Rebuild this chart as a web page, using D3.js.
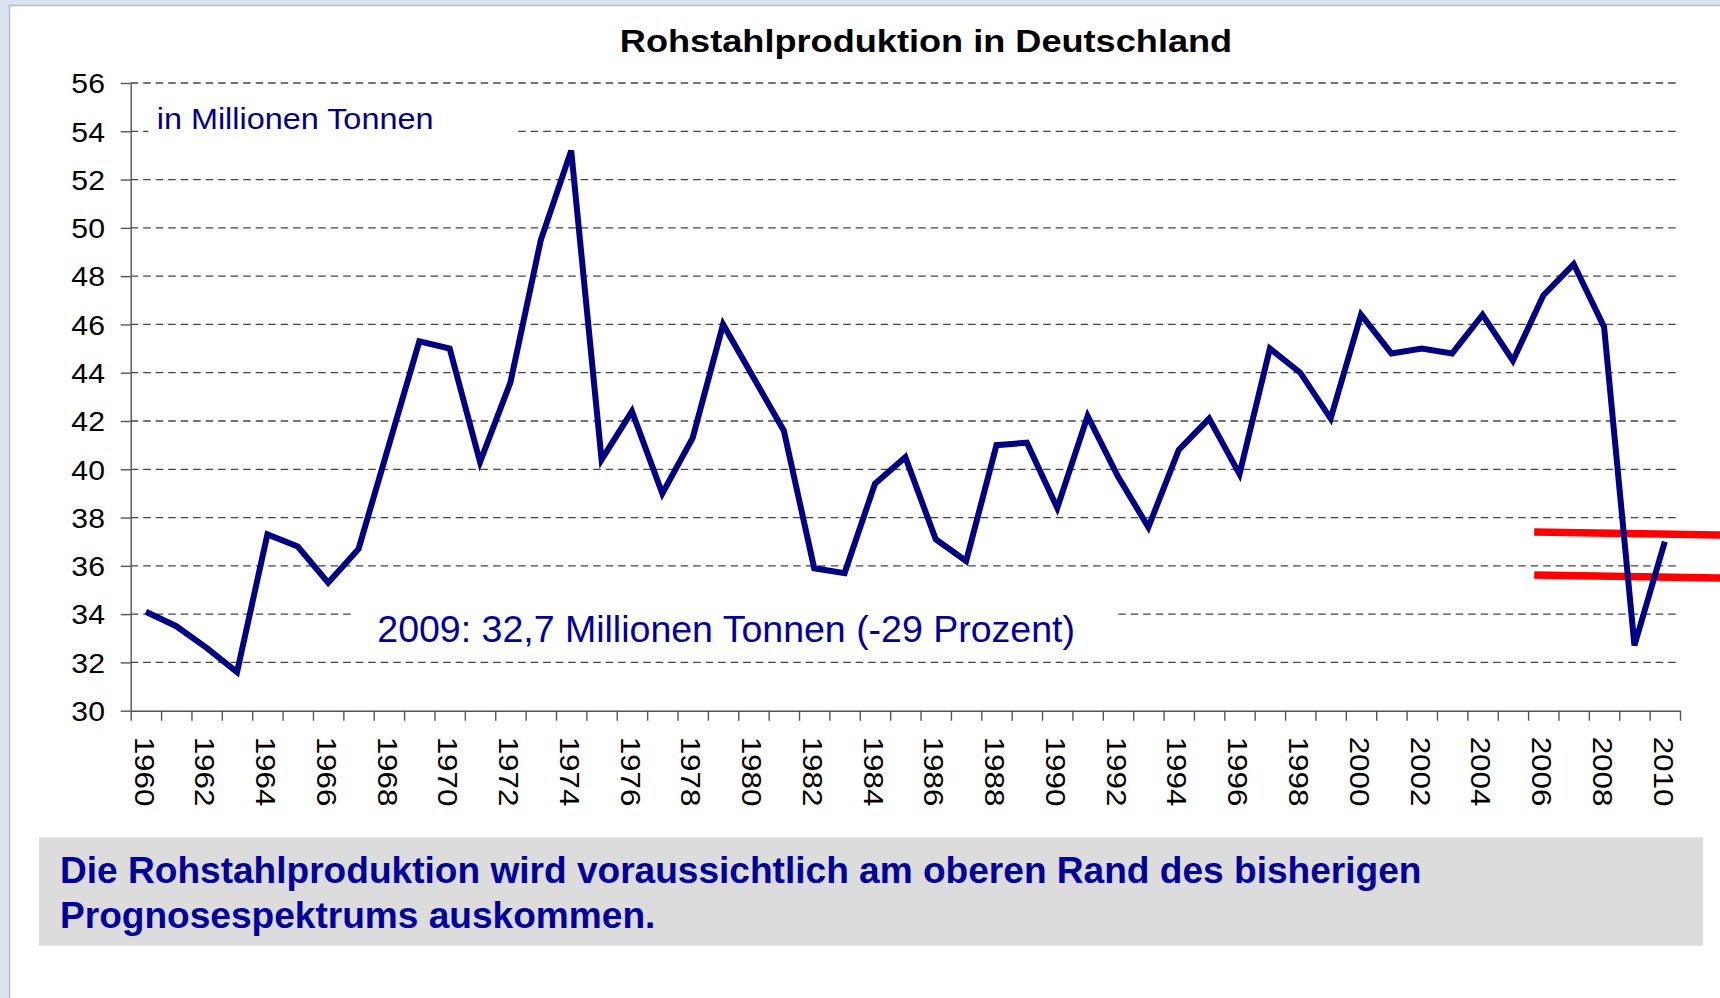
<!DOCTYPE html>
<html>
<head>
<meta charset="utf-8">
<script src="https://cdn.jsdelivr.net/npm/d3@7"></script>
<style>
  html, body { margin: 0; padding: 0; background: #d9e3f1; }
  svg { display: block; font-family: "Liberation Sans", Arial, sans-serif; }
</style>
</head>
<body>
<svg id="chart"></svg>
<script>
// Rohstahlproduktion in Deutschland, Mio. t
var years = d3.range(1960, 2011);
var production = [
  34.1, 33.5, 32.6, 31.6, 37.3, 36.8, 35.3, 36.7, 41.0, 45.3,
  45.0, 40.3, 43.6, 49.5, 53.2, 40.4, 42.4, 39.0, 41.3, 46.0,
  43.8, 41.6, 35.9, 35.7, 39.4, 40.5, 37.1, 36.2, 41.0, 41.1,
  38.4, 42.2, 39.7, 37.6, 40.8, 42.1, 39.8, 45.0, 44.0, 42.1,
  46.4, 44.8, 45.0, 44.8, 46.4, 44.5, 47.2, 48.5, 45.9, 32.7,
  37.0
];
var yTicks = d3.range(30, 57, 2);
var labelYears = d3.range(1960, 2011, 2);

// red forecast band lines: [year, value] start and end
var forecastUpper = [[2005.7, 37.4], [2011.9, 37.28]];
var forecastLower = [[2005.7, 35.62], [2011.9, 35.5]];

var titleText = "Rohstahlproduktion in Deutschland";
var unitText = "in Millionen Tonnen";
var noteText = "2009: 32,7 Millionen Tonnen (-29 Prozent)";
var boxLines = [
  "Die Rohstahlproduktion wird voraussichtlich am oberen Rand des bisherigen",
  "Prognosespektrums auskommen."
];

var width = 1720, height = 998;
var navy = "#000080";

var svg = d3.select("#chart")
            .attr("width", width)
            .attr("height", height);

// slide background
svg.append("rect").attr("width", width).attr("height", height).attr("fill", "#d9e3f1");
svg.append("rect").attr("x", 9.5).attr("y", 5.5)
   .attr("width", width).attr("height", height)
   .attr("fill", "#fff").attr("stroke", "#bdbdbd").attr("stroke-width", 1.5);

var x = d3.scaleLinear().domain([1959.5, 2010.5]).range([130.7, 1680]);
var y = d3.scaleLinear().domain([30, 56]).range([710.7, 83]);

// grid lines
svg.append("g")
   .selectAll("line")
   .data(yTicks.slice(1))
   .enter().append("line")
   .attr("x1", x(1959.5)).attr("x2", 1676)
   .attr("y1", function(d) { return y(d); })
   .attr("y2", function(d) { return y(d); })
   .attr("stroke", "#444")
   .attr("stroke-width", 1.3)
   .attr("stroke-dasharray", "7.5,5");

// y axis
var yAxis = svg.append("g")
   .attr("transform", "translate(" + x(1959.5) + ",0)")
   .call(d3.axisLeft(y).tickValues(yTicks).tickSize(10).tickSizeOuter(0));
yAxis.select(".domain").attr("stroke", "#555").attr("stroke-width", 1.4);
yAxis.selectAll(".tick line").attr("stroke", "#555").attr("stroke-width", 1.4);
yAxis.selectAll(".tick text")
   .attr("x", -23)
   .attr("dy", "0.36em")
   .attr("transform", "scale(1.12,1)")
   .attr("font-size", 27)
   .attr("fill", "#000")
   .attr("font-family", "Liberation Sans, Arial, sans-serif");

// x axis: ticks between the years
var xAxis = svg.append("g")
   .attr("transform", "translate(0," + y(30) + ")")
   .call(d3.axisBottom(x).tickValues(d3.range(1959.5, 2011, 1)).tickSize(10).tickSizeOuter(0).tickFormat(""));
xAxis.select(".domain").attr("stroke", "#555").attr("stroke-width", 1.4);
xAxis.selectAll(".tick line").attr("stroke", "#555").attr("stroke-width", 1.4);

var xLabels = svg.append("g")
   .attr("transform", "translate(0," + y(30) + ")")
   .call(d3.axisBottom(x).tickValues(labelYears).tickSize(0).tickFormat(d3.format("d")));
xLabels.select(".domain").remove();
xLabels.selectAll(".tick text")
   .attr("transform", "rotate(90) scale(1.12,1)")
   .attr("x", 23.2)
   .attr("y", 0)
   .attr("dy", "0.42em")
   .attr("text-anchor", "start")
   .attr("font-size", 28)
   .attr("fill", "#000")
   .attr("font-family", "Liberation Sans, Arial, sans-serif");

// title
svg.append("text")
   .attr("transform", "translate(926,52) scale(1.13,1)")
   .attr("text-anchor", "middle")
   .attr("font-weight", "bold")
   .attr("font-size", 32)
   .attr("fill", "#000")
   .text(titleText);

// unit label with white backing
svg.append("rect").attr("x", 148).attr("y", 98).attr("width", 365).attr("height", 46).attr("fill", "#fff");
svg.append("text")
   .attr("transform", "translate(156.7,129) scale(1.08,1)")
   .attr("font-size", 30)
   .attr("fill", navy)
   .text(unitText);

// 2009 note with white backing
svg.append("rect").attr("x", 355).attr("y", 596).attr("width", 759).attr("height", 54).attr("fill", "#fff");
svg.append("text")
   .attr("x", 377.3).attr("y", 641.7)
   .attr("font-size", 37.5)
   .attr("fill", "#00009a")
   .text(noteText);

// forecast band (red)
var bandLine = d3.line()
   .x(function(d) { return x(d[0]); })
   .y(function(d) { return y(d[1]); });
svg.selectAll(".band")
   .data([forecastUpper, forecastLower])
   .enter().append("path")
   .attr("class", "band")
   .attr("d", bandLine)
   .attr("fill", "none")
   .attr("stroke", "#ff0000")
   .attr("stroke-width", 7.5);

// production line
var line = d3.line()
   .x(function(d, i) { return x(years[i]); })
   .y(function(d) { return y(d); });
svg.append("path")
   .datum(production)
   .attr("d", line)
   .attr("fill", "none")
   .attr("stroke", navy)
   .attr("stroke-width", 6)
   .attr("stroke-linejoin", "miter")
   .attr("stroke-linecap", "butt");

// comment box
svg.append("rect").attr("x", 39).attr("y", 837.3).attr("width", 1664).attr("height", 108.4).attr("fill", "#dcdcdc");
svg.append("g")
   .selectAll("text")
   .data(boxLines)
   .enter().append("text")
   .attr("transform", function(d, i) { return "translate(60," + (883.3 + i * 44.4) + ") scale(1.03,1)"; })
   .attr("font-weight", "bold")
   .attr("font-size", 36)
   .attr("fill", "#00009a")
   .text(function(d) { return d; });
</script>
</body>
</html>
